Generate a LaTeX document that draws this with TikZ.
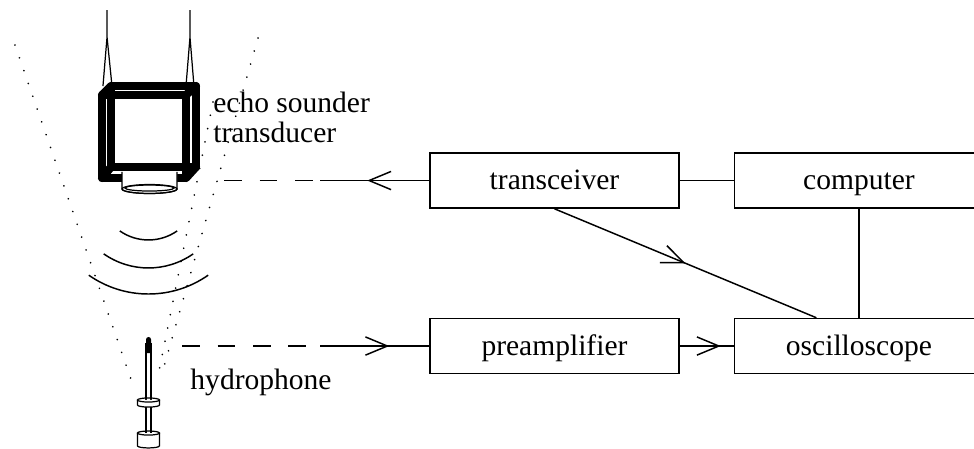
\documentclass[tikz,border=0pt]{standalone}
\usepackage{fontspec}
\setmainfont{Liberation Serif}
\usetikzlibrary{positioning,arrows.meta,decorations.markings}

\tikzset{
  >={Straight Barb[length=8.9pt,width=7.4pt]},
  block/.style={draw, line width=0.6pt, minimum width=3.557cm, minimum height=0.786cm,
                inner sep=0pt, text height=8.6pt, text depth=1pt},
  wire/.style={line width=0.6pt},
  signal/.style={wire, dash pattern=on 7.2pt off 7.2pt},
  beam/.style={line width=0.75pt, line cap=round, dash pattern=on 0.01pt off 5.5pt},
  thin/.style={line width=0.5pt},
  frame/.style={line width=3.3pt, line join=round, line cap=round},
  midarrow/.style={postaction={decorate}, decoration={markings, mark=at position #1 with {\arrow{>}}}},
}

\begin{document}
\begin{tikzpicture}[font=\fontsize{12}{14}\selectfont]
        \useasboundingbox (0,0) rectangle (13.914,6.4);
        \clip (0,0) rectangle (13.914,6.4);

        % Blocks
        \node[block] (transceiver) at (7.921,3.821) {transceiver};
        \node[block, right=0.771cm of transceiver] (computer) {computer};
        \node[block, below=1.557cm of transceiver] (preamplifier) {preamplifier};
        \node[block, right=0.771cm of preamplifier] (oscilloscope) {oscilloscope};

        \coordinate (scopetap) at ([xshift=-0.607cm]oscilloscope.north);
        \coordinate (sounder) at ([xshift=-2.929cm]transceiver.west);
        \coordinate (txbreak) at ([xshift=-1.557cm]transceiver.west);
        \coordinate (hydro) at ([xshift=-3.529cm]preamplifier.west);
        \coordinate (rxbreak) at ([xshift=-1.557cm]preamplifier.west);

        % Links between blocks
        \draw[wire] (transceiver) -- (computer);
        \draw[wire] (computer) -- (oscilloscope);
        \draw[wire, midarrow=0.5] (transceiver.south) -- (scopetap);
        \draw[wire, midarrow=0.586cm] (preamplifier) -- (oscilloscope);

        % Signal paths to the water
        \draw[signal] (sounder) -- (txbreak);
        \draw[wire, midarrow=0.886cm] (transceiver.west) -- (txbreak);
        \draw[signal] (hydro) -- (rxbreak);
        \draw[wire, midarrow=0.986cm] (rxbreak) -- (preamplifier.west);

        % Beam edges
        \draw[beam] (0.214,5.757) -- (1.9,0.9);
        \draw[beam] (3.686,5.857) -- (2.329,1.114);
        \draw[beam] (3.043,4.943) -- (2.243,0.957);

        % Transducer hanging in its cage
        \draw[thin] (1.529,6.257) -- (1.529,5.871) -- (1.471,5.171) (1.529,5.871) -- (1.6,5.171);
        \draw[thin] (2.714,6.257) -- (2.714,5.871) -- (2.657,5.171) (2.714,5.871) -- (2.771,5.171);
        \draw[frame] (1.586,5.171) rectangle (2.8,4.014);
        \draw[frame] (1.457,5.043) rectangle (2.657,3.857);
        \draw[frame] (1.457,5.043) -- (1.586,5.171) (2.657,5.043) -- (2.8,5.171)
                     (1.457,3.857) -- (1.586,4.014) (2.657,3.857) -- (2.8,4.014);
        \filldraw[fill=white, thin] (1.743,3.943) -- (1.743,3.7) arc[start angle=180, end angle=360, x radius=0.393, y radius=0.064] -- (2.529,3.943);
        \draw[thin] (2.136,3.7) ellipse[x radius=0.393, y radius=0.064];
        \draw[thin] (2.136,3.714) ellipse[x radius=0.35, y radius=0.043];

        % Wave fronts
        \foreach \r in {0.714,1.114,1.486}
          \draw[wire] (2.121,3.686) ++(235:\r) arc[start angle=235, end angle=305, radius=\r];

        % Hydrophone
        \fill (2.086,1.357) -- (2.086,1.55) arc[start angle=180, end angle=0, radius=0.036] -- (2.157,1.357) -- cycle;
        \draw[thin] (2.086,1.5) -- (2.086,0.686) (2.157,1.5) -- (2.157,0.686);
        \draw[thin] (2.086,0.6) -- (2.086,0.214) (2.157,0.6) -- (2.157,0.214);
        \filldraw[fill=white, thin] (1.964,0.686) -- (1.964,0.614) arc[start angle=180, end angle=360, x radius=0.157, y radius=0.029] -- (2.279,0.686);
        \draw[thin] (2.121,0.686) ellipse[x radius=0.157, y radius=0.029];
        \filldraw[fill=white, thin] (1.964,0.214) -- (1.964,0.03) arc[start angle=180, end angle=360, x radius=0.157, y radius=0.029] -- (2.279,0.214);
        \draw[thin] (2.121,0.214) ellipse[x radius=0.157, y radius=0.029];

        % Labels
        \node[anchor=base west, inner sep=0pt] (echolabel) at (3.04,4.8) {echo sounder};
        \node[anchor=base west, inner sep=0pt] (transducerlabel) at (3.04,4.371) {transducer};
        \node[anchor=base west, inner sep=0pt] (hydrolabel) at (2.714,0.829) {hydrophone};
    \end{tikzpicture}
\end{document}
